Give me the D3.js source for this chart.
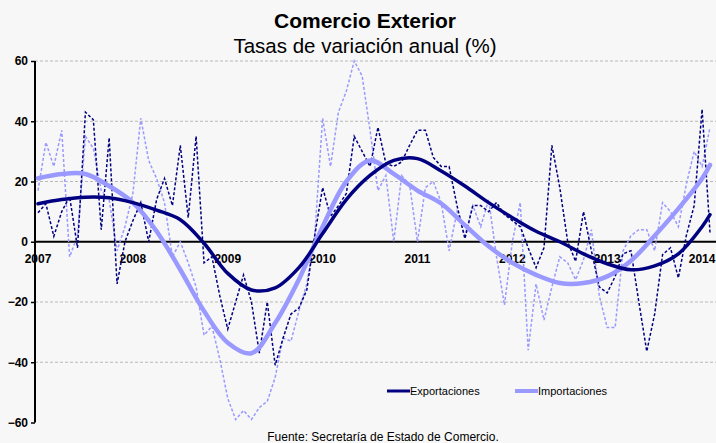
<!DOCTYPE html>
<html><head><meta charset="utf-8">
<script src="https://cdn.jsdelivr.net/npm/d3@7"></script>
<style>body{margin:0;background:#f7f7f7;}svg{display:block;font-family:Arial,"Liberation Sans",sans-serif;}</style>
</head><body><svg id="c" width="716" height="443"></svg>
<script>
const years = ["2007","2008","2009","2010","2011","2012","2013","2014"];
const yTicks = [60,40,20,0,-20,-40,-60];
const gridTicks = [60,40,20,-20,-40];
const exportsMonthly = [
 9.6,12.6,1.8,10,15,-2,43,40.5,4,34.5,-14,0,
 7,13,0,14,21,12,32,8,35,-7,-5,-18,
 -29,-20,-11,-20,-37,-20,-41,-32,-24,-22,-16,2,
 18,8.4,12,16,35,30,25,38,26,25,26.5,32,
 37,37,28,25,25,12,1,12,12,10,13,9,
 7,5,-2,-8.6,-2,32,18,0,-6.5,10,-3,-15,
 -17,-11.5,-4,-3,-20,-36.4,-24,-4.3,-2,-12,2,12,
 44,3];
const importsMonthly = [
 17,33,25,37,-5,2,35,31,17,14,-3,5,
 16,41,27,21,13,-5,0,-7,-15,-31,-28,-39,
 -52,-59,-56,-59,-55,-53,-45,-32,-33,-23,-14,2,
 41,25,43,50,60,55,37,17,22,0,22,19,
 0,18,20,13,-3,10,2,12,5,14,-5,-21,
 0,13,-36,-14,-26,-15,-5,-7,-12.6,-6,4,-18,
 -28.5,-28.5,-3,2,4,4,-3,13,10,5,19,30,
 25,38];
const trendIdx = [0,3,6,9,12,15,18,21,24,27,30,33,36,39,42,45,48,51,54,57,60,63,66,69,72,75,78,81,84,85];
const exportsTrend = [12.6,14,14.8,14.6,13,10.5,7.3,-0.5,-10.5,-16,-15.3,-8.6,2.7,14,22,27,27.6,23.5,18.5,13,8,3.5,0,-4,-7.3,-9.3,-8,-4,5,9];
const importsTrend = [21.1,22.5,22.5,18.5,13,3.5,-9.3,-23,-33.5,-37,-27,-12.5,5,20,27,22.5,17,12.7,5.5,-1.5,-7,-11,-13.7,-13.7,-11.5,-6.3,2,11,21,25.5];
const seriesNames = ["Exportaciones","Importaciones"];
const colors = ["#000080","#9999ff"];

const svg = d3.select("#c");
svg.append("rect").attr("width",716).attr("height",443).attr("fill","#f7f7f7");
const x = d3.scaleLinear().domain([0,85]).range([38,710]);
const y = d3.scaleLinear().domain([-60,60]).range([422.5,61]);

svg.append("g").selectAll("line").data(gridTicks).join("line")
  .attr("x1",35).attr("x2",716).attr("y1",d=>y(d)).attr("y2",d=>y(d))
  .attr("stroke","#b8b8b8").attr("stroke-width",1).attr("stroke-dasharray","3,2");

const ya = svg.append("g").attr("transform","translate(35,0)")
  .call(d3.axisLeft(y).tickValues(yTicks).tickSize(4).tickFormat(d3.format("d")));
ya.select(".domain").attr("stroke","#000").attr("stroke-width",2).attr("d",`M0,${y(60)}V${y(-60)}`);
ya.selectAll(".tick line").attr("stroke","#000").attr("stroke-width",1.5);
ya.selectAll(".tick text").attr("font-size",12).attr("font-weight","bold").attr("fill","#000")
  .attr("font-family","Arial, Liberation Sans, sans-serif").attr("x",-7);

svg.append("line").attr("x1",35).attr("x2",716).attr("y1",y(0)).attr("y2",y(0))
  .attr("stroke","#000").attr("stroke-width",2);

svg.append("g").selectAll("text").data(years).join("text")
  .attr("x",(d,i)=>x(i*12)).attr("y",263).attr("text-anchor","middle")
  .attr("font-size",12).attr("font-weight","bold").attr("fill","#000").text(d=>d);

const lineM = d3.line().x((d,i)=>x(i)).y(d=>y(d)).curve(d3.curveLinear);
const lineT = d3.line().x((d,i)=>x(trendIdx[i])).y(d=>y(d)).curve(d3.curveCatmullRom.alpha(0.5));

svg.append("path").attr("d",lineM(importsMonthly)).attr("fill","none")
  .attr("stroke",colors[1]).attr("stroke-width",1.5).attr("stroke-dasharray","3,2");
svg.append("path").attr("d",lineM(exportsMonthly)).attr("fill","none")
  .attr("stroke",colors[0]).attr("stroke-width",1.5).attr("stroke-dasharray","3,2");
svg.append("path").attr("d",lineT(importsTrend)).attr("fill","none")
  .attr("stroke",colors[1]).attr("stroke-width",4.5).attr("stroke-linecap","round");
svg.append("path").attr("d",lineT(exportsTrend)).attr("fill","none")
  .attr("stroke",colors[0]).attr("stroke-width",3.5).attr("stroke-linecap","round");

const lg = svg.append("g");
const lx = [387,515];
seriesNames.forEach((n,i)=>{
  lg.append("line").attr("x1",lx[i]).attr("x2",lx[i]+23).attr("y1",391).attr("y2",391)
    .attr("stroke",colors[i]).attr("stroke-width",i?4:3);
  lg.append("text").attr("x",lx[i]+23).attr("y",395).attr("font-size",11).attr("fill","#000").text(n);
});

svg.append("text").attr("x",365).attr("y",28).attr("text-anchor","middle")
  .attr("font-size",21).attr("font-weight","bold").attr("fill","#000").text("Comercio Exterior");
svg.append("text").attr("x",365).attr("y",53).attr("text-anchor","middle")
  .attr("font-size",20.5).attr("fill","#000").text("Tasas de variación anual (%)");
svg.append("text").attr("x",383).attr("y",441).attr("text-anchor","middle")
  .attr("font-size",12).attr("fill","#000").text("Fuente: Secretaría de Estado de Comercio.");
</script></body></html>
